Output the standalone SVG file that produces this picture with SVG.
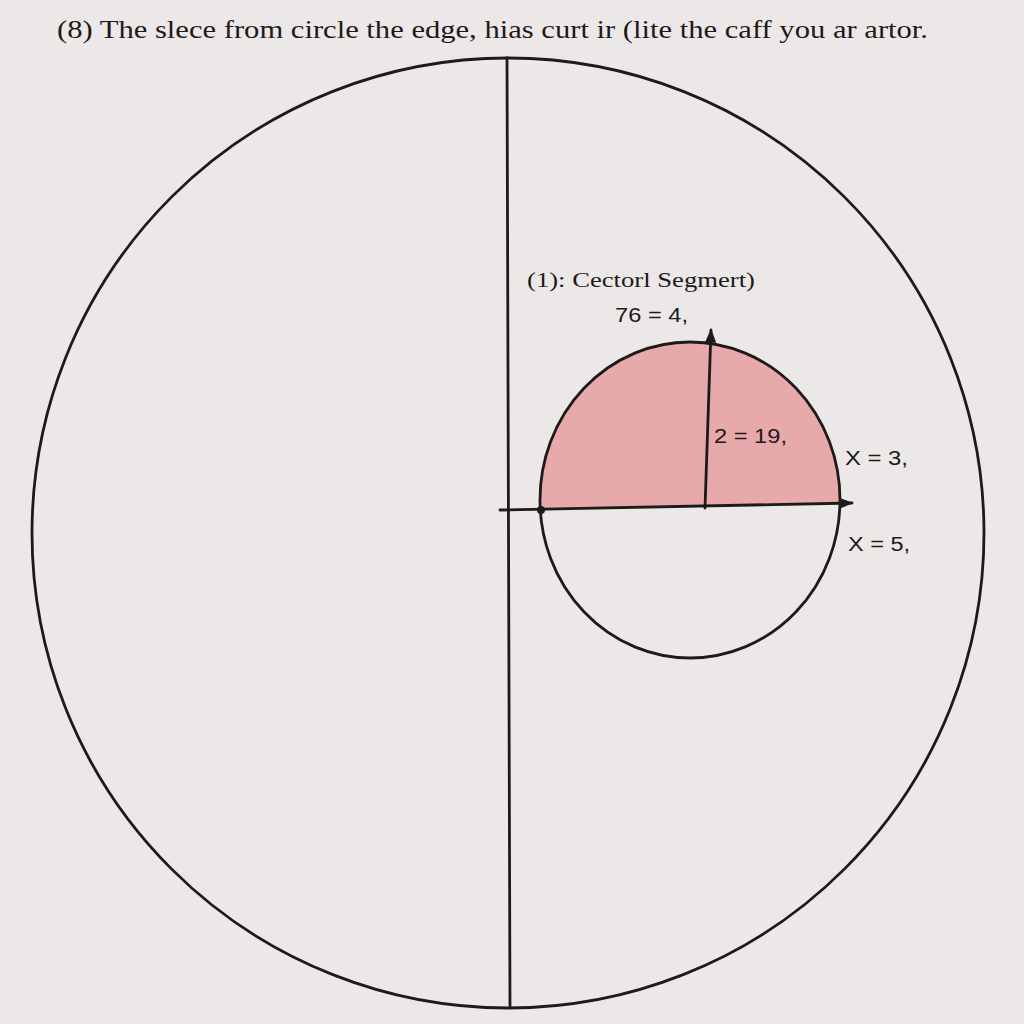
<svg xmlns="http://www.w3.org/2000/svg" width="1024" height="1024" viewBox="0 0 1024 1024">
<defs>
<style>
.ln{fill:none;stroke:#1c1a1a;stroke-width:2.8;stroke-linecap:round}
.tx{font-family:"Liberation Serif","DejaVu Serif",serif;fill:#1c1a1a}
.lb{font-family:"Liberation Sans","DejaVu Sans",sans-serif;fill:#1c1a1a}
</style>
<marker id="ah" viewBox="0 0 10 10" refX="9" refY="5" markerWidth="5" markerHeight="5" orient="auto">
<path d="M0,1 L10,5 L0,9 z" fill="#1c1a1a"/>
</marker>
<clipPath id="upper">
<polygon points="500,510 860,502 860,300 500,300"/>
</clipPath>
</defs>
<rect width="1024" height="1024" fill="#ece8e7"/>
<text class="tx" x="57" y="38" font-size="25" textLength="871" lengthAdjust="spacingAndGlyphs">(8) The slece from circle the edge, hias curt ir (lite the caff you ar artor.</text>
<g id="outer-circle">
<ellipse cx="508" cy="533" rx="476" ry="475" class="ln"/>
</g>
<g id="small-circle">
<ellipse cx="690" cy="500" rx="150" ry="158" fill="#e8a9aa" clip-path="url(#upper)"/>
<ellipse cx="690" cy="500" rx="150" ry="158" class="ln"/>
</g>
<g id="connectors">
<line x1="507" y1="58" x2="510" y2="1006" class="ln"/>
<line x1="500" y1="510" x2="852" y2="503" class="ln" marker-end="url(#ah)"/>
<line x1="705" y1="508" x2="711" y2="330" class="ln" marker-end="url(#ah)"/>
<circle cx="541" cy="510" r="4" fill="#1c1a1a"/>
</g>
<g id="labels">
<text class="tx" x="527" y="287" font-size="22" textLength="228" lengthAdjust="spacingAndGlyphs">(1): Cectorl Segmert)</text>
<text class="lb" x="615" y="322" font-size="20" textLength="73" lengthAdjust="spacingAndGlyphs">76 = 4,</text>
<text class="lb" x="714" y="443" font-size="20" textLength="73" lengthAdjust="spacingAndGlyphs">2 = 19,</text>
<text class="lb" x="845" y="465" font-size="20" textLength="63" lengthAdjust="spacingAndGlyphs">X = 3,</text>
<text class="lb" x="848" y="551" font-size="20" textLength="62" lengthAdjust="spacingAndGlyphs">X = 5,</text>
</g>
</svg>
